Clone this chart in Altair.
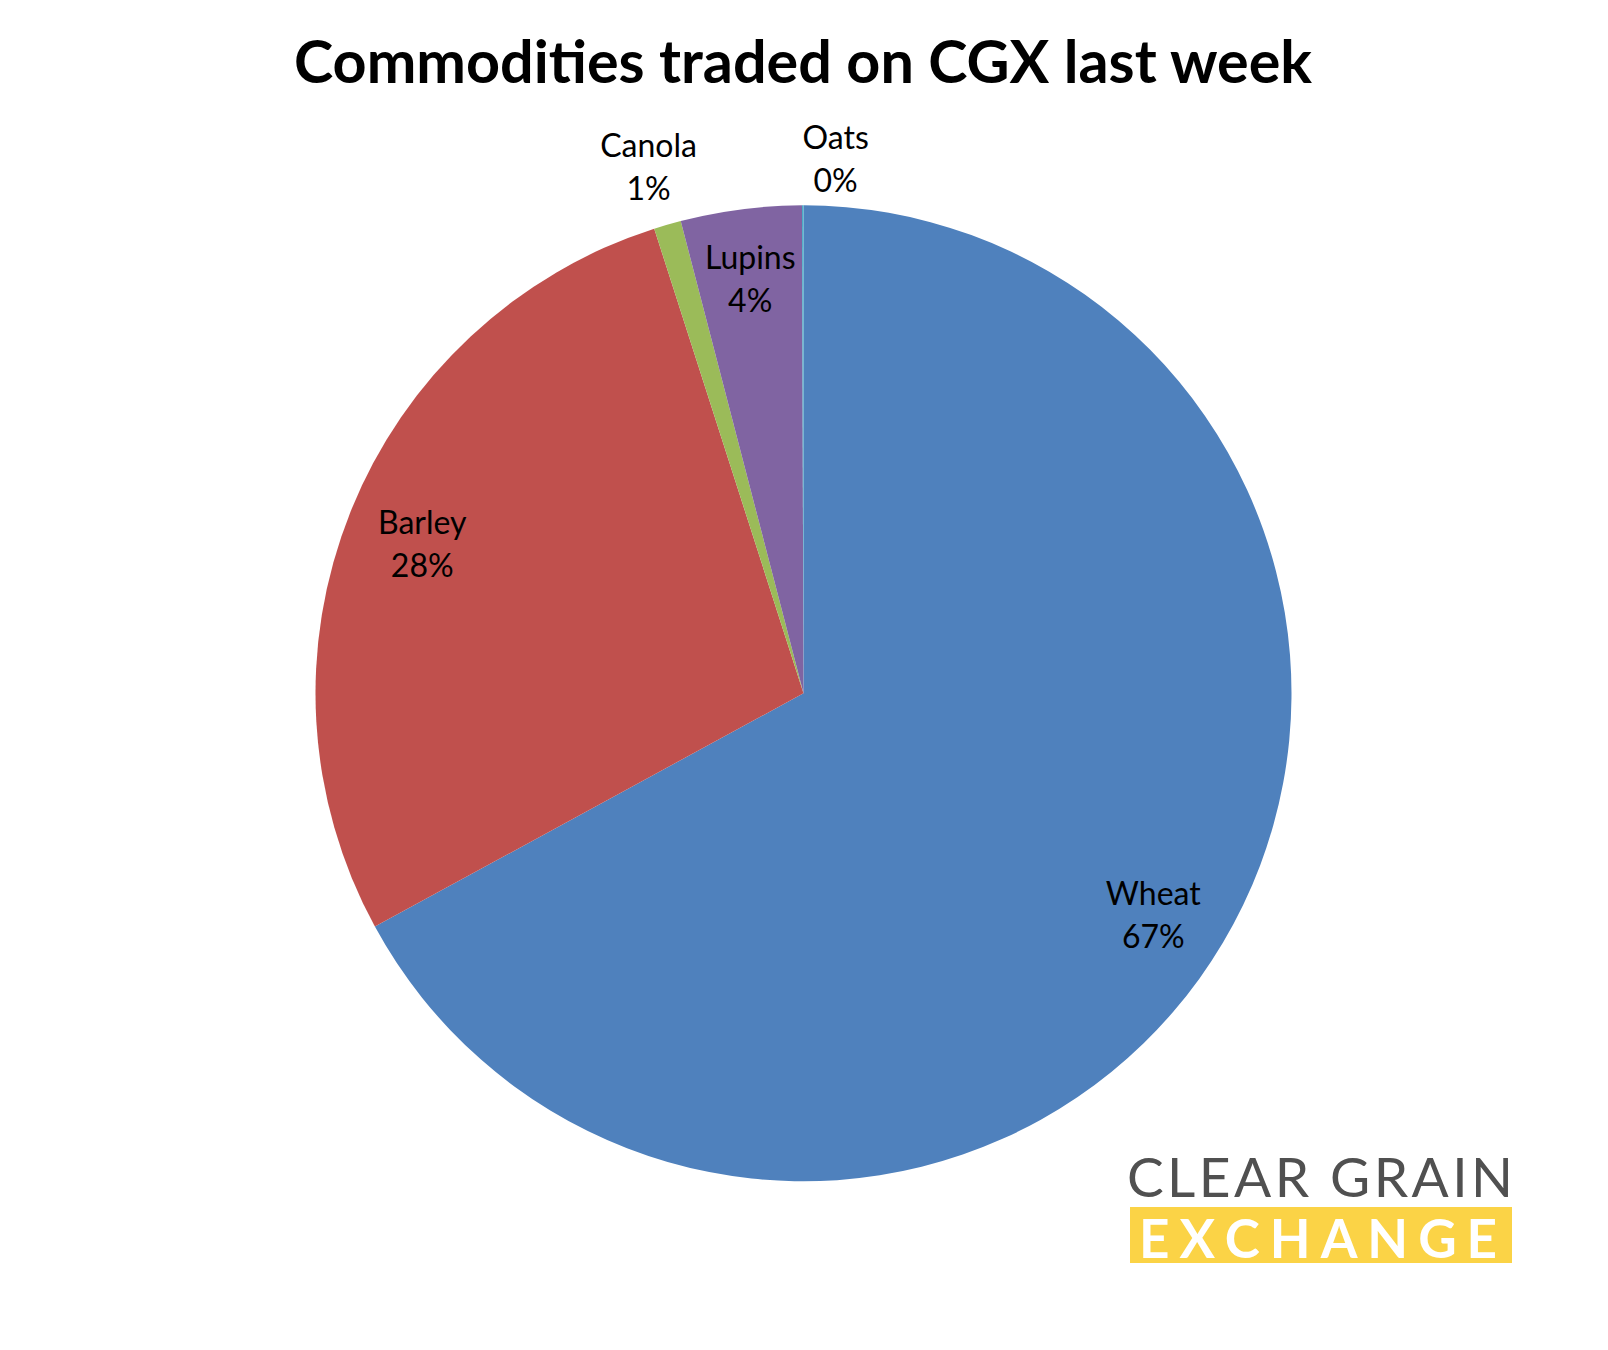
import altair as alt
import pandas as pd

categories = ["Wheat", "Barley", "Canola", "Lupins", "Oats"]
shares = [67.1, 28.0, 0.9, 4.0, 0.05]
pct_labels = ["67%", "28%", "1%", "4%", "0%"]
colors = ["#4F81BD", "#C0504D", "#9BBB59", "#8064A2", "#4BACC6"]

df = pd.DataFrame({
    "category": categories,
    "share": shares,
    "pct": pct_labels,
    "idx": list(range(len(categories))),
})

CX, CY, R = 795.5, 685.3, 488
FONT = "Lato"

base = alt.Chart(df)
theta = alt.Theta("share:Q", stack=True)
order = alt.Order("idx:Q")

pie = base.mark_arc(radius=R, stroke=None).encode(
    theta=theta,
    order=order,
    color=alt.Color("category:N", scale=alt.Scale(domain=categories, range=colors), legend=None),
    x=alt.value(CX), y=alt.value(CY),
)

def label_layer(name, radius, dx=0, dy=0):
    return base.transform_calculate(
        lbl="datum.category == '%s' ? datum.category + '\\n' + datum.pct : ''" % name
    ).mark_text(
        radius=radius, font=FONT, fontSize=32, color="black", lineBreak="\n",
        lineHeight=43, baseline="middle", align="center", dx=dx, dy=dy,
    ).encode(
        theta=theta, order=order, text="lbl:N",
        x=alt.value(CX), y=alt.value(CY),
    )

labels = [
    label_layer("Wheat", 415, dx=-7, dy=-10),
    label_layer("Barley", 415, dx=4, dy=-15),
    label_layer("Lupins", 415, dy=-23),
    label_layer("Canola", 545, dx=-3, dy=-23),
    label_layer("Oats", 535, dx=33, dy=-19),
]

title_df = pd.DataFrame({"t": ["Commodities traded on CGX last week"]})
title = alt.Chart(title_df).mark_text(
    font=FONT, fontSize=59.3, fontWeight="bold", color="black", align="center", baseline="alphabetic"
).encode(text="t:N", x=alt.value(795), y=alt.value(75))

HS = "\u200a"
TS = "\u2009\u200a"
logo_top = pd.DataFrame({"t": [HS.join("CLEAR GRAIN")]})
logo_bot = pd.DataFrame({"t": [TS.join("EXCHANGE")]})
band = alt.Chart(pd.DataFrame({"a": [0]})).mark_rect(color="#FBD346").encode(
    x=alt.value(1122), x2=alt.value(1504), y=alt.value(1199), y2=alt.value(1255)
)
logo1 = alt.Chart(logo_top).mark_text(
    font=FONT, fontSize=55, color="#505050", align="center", baseline="alphabetic"
).encode(text="t:N", x=alt.value(1312), y=alt.value(1189))
logo2 = alt.Chart(logo_bot).mark_text(
    font=FONT, fontSize=53, fontWeight="bold", color="white", align="center", baseline="alphabetic"
).encode(text="t:N", x=alt.value(1310), y=alt.value(1250))

chart = alt.layer(pie, *labels, title, band, logo1, logo2).properties(
    width=1592, height=1330, autosize=alt.AutoSizeParams(type="none"), padding=0
).configure_view(stroke=None)

chart.save("out.html", embed_options={"renderer": "svg", "actions": False})
